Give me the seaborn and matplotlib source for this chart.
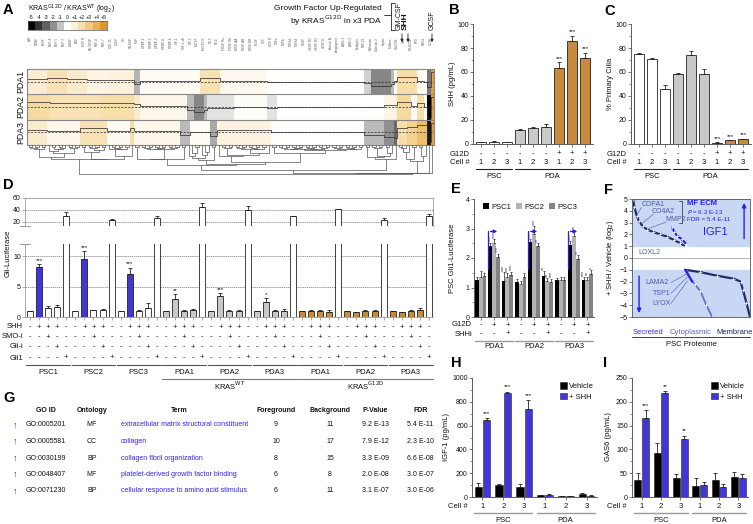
import numpy as np
import pandas as pd
import matplotlib
matplotlib.use("Agg")
import matplotlib.pyplot as plt
import matplotlib.transforms as mtrans
from matplotlib.colors import LinearSegmentedColormap, ListedColormap
from matplotlib.patches import Patch
from matplotlib.lines import Line2D
from matplotlib.ticker import MultipleLocator
import seaborn as sns

sns.set_theme(style="ticks")
plt.rcParams['font.family'] = ['Liberation Sans', 'DejaVu Sans']
plt.rcParams.update({
    'axes.linewidth': 0.6, 'axes.edgecolor': '#444444',
    'xtick.major.width': 0.5, 'ytick.major.width': 0.5,
    'xtick.major.size': 2, 'ytick.major.size': 2,
    'ytick.minor.size': 1.2, 'ytick.minor.width': 0.4,
    'xtick.color': '#444444', 'ytick.color': '#444444',
    'xtick.labelcolor': '#111111', 'ytick.labelcolor': '#111111',
    'text.color': '#111111', 'axes.labelcolor': '#111111',
})

W, H = 753, 524
BLUE = '#2b1bf0'
ORANGE = '#e08c26'
LGRAY = '#c9c9c9'
INK = '#222222'

# ======================= DATA =======================
# --- A: KRAS G12D / WT growth-factor heatmap (log2), run-length encoded (value, n columns)
hm_rows = ["PDA1", "PDA2", "PDA3"]
pda1_vals = [1.2, 1.8, 1.3, 0.8, 1.0, -1.3, 0.3, 1.8, 0.5, 0.0, -0.8, -2.2, -1.2, 0.2, 2.0, 0.4, 0.0, -2.5, 4.5]
pda1_runs = [6, 6, 6, 7, 7, 2, 18, 6, 14, 29, 2, 6, 1, 1, 6, 2, 1, 1, 1]
pda2_vals = [2.2, 1.8, 2.0, 1.4, 0.6, -1.2, -2.2, -1.2, -0.5, 0.2, -0.5, 0.0, 0.8, 2.3, 0.3, 2.0, 0.2, -5.0, 4.5]
pda2_runs = [7, 15, 10, 2, 14, 2, 3, 1, 8, 10, 3, 32, 4, 4, 2, 2, 1, 1, 1]
pda3_vals = [1.3, 0.6, 1.8, 0.4, 2.0, 0.6, -1.2, 0.3, -1.5, 0.9, 0.0, -1.2, -2.0, -2.8, 2.0, 2.6, 3.4, -4.5, 4.5]
pda3_runs = [6, 10, 8, 7, 1, 14, 3, 6, 2, 16, 28, 6, 3, 1, 3, 3, 3, 1, 1]
cbar_ticks = ['-5', '-4', '-3', '-2', '-1', '0', '+1', '+2', '+3', '+4', '+5']
cbar_colors = ['#000000', '#333333', '#606060', '#909090', '#c4c4c4', '#ffffff',
               '#fcf1dc', '#f7dfad', '#f1c97f', '#eab052', '#e0942a']
gene_labels = ["AR", "BDNF", "bFGF", "BMP-4", "BMP-5", "BMP-7", "b-NGF", "EGF", "EGF R", "EG-VEGF",
               "FGF-4", "FGF-7", "GDF-15", "GDNF", "GH", "HB-EGF", "HGF", "IGFBP-1", "IGFBP-2", "IGFBP-3",
               "IGFBP-4", "IGFBP-6", "IGF-1", "IGF-1 sR", "IGF-2", "M-CSF", "M-CSF R", "NT-3", "NT-4",
               "PDGF Ra", "PDGF Rb", "PDGF-AA", "PDGF-AB", "PDGF-BB", "PLGF", "SCF", "SCF R", "TGFa",
               "TGFb", "TGFb2", "TGFb3", "VEGF", "VEGF R2", "VEGF R3", "VEGF-D", "Activin A", "Angiogenin",
               "ANG-1", "ANG-2", "Endoglin", "FGF-21", "Follistatin", "Galectin-3", "Leptin", "Midkine",
               "GM-CSF", "SHH", "PD-ECGF", "TPO", "NRG1", "GCSF"]

# --- B: SHH secretion (pg/mL)
b_g12d = ['-', '-', '-', '-', '-', '-', '+', '+', '+']
b_cell = ['1', '2', '3', '1', '2', '3', '1', '2', '3']
b_kind = ['PSC', 'PSC', 'PSC', 'WT', 'WT', 'WT', 'G12D', 'G12D', 'G12D']
b_vals = [1.5, 1.8, 1.6, 12.0, 13.0, 14.5, 63.0, 86.0, 72.0]
b_errs = [0.3, 0.3, 0.3, 0.6, 1.5, 2.5, 5.0, 4.0, 4.0]
b_stars = ['', '', '', '', '', '', '***', '***', '***']

# --- C: % primary cilia
c_vals = [75.0, 71.0, 46.0, 58.0, 74.0, 58.0, 1.0, 3.0, 4.0]
c_errs = [0.6, 0.6, 3.0, 0.8, 3.5, 4.5, 0.3, 0.3, 0.4]
c_stars = ['', '', '', '', '', '', '***', '***', '***']

# --- D: Gli-luciferase (5 conditions per cell line)
d_groups = ["PSC1", "PSC2", "PSC3", "PDA1", "PDA2", "PDA3", "PDA1", "PDA2", "PDA3"]
d_kras = ["PSC", "PSC", "PSC", "WT", "WT", "WT", "G12D", "G12D", "G12D"]
d_vals = [[1.0, 8.2, 1.5, 1.7, 30.0], [1.0, 9.6, 1.1, 1.2, 23.0], [1.0, 7.0, 1.0, 1.4, 27.0],
          [1.0, 2.9, 1.0, 1.1, 45.0], [1.0, 3.4, 1.0, 1.05, 40.0], [1.0, 2.5, 1.05, 1.05, 29.0],
          [1.0, 1.05, 1.0, 0.85, 41.0], [1.0, 0.85, 1.0, 1.0, 23.0], [1.0, 0.85, 1.0, 1.1, 29.0]]
d_errs = [[0.0, 0.5, 0.3, 0.3, 6.0], [0.0, 1.2, 0.1, 0.1, 1.5], [0.0, 1.1, 0.1, 0.9, 3.0],
          [0.0, 0.8, 0.2, 0.2, 6.0], [0.0, 0.5, 0.1, 0.1, 7.0], [0.0, 0.6, 0.1, 0.2, 1.0],
          [0.0, 0.1, 0.1, 0.3, 1.0], [0.0, 0.05, 0.1, 0.2, 4.0], [0.0, 0.05, 0.1, 0.4, 4.0]]
d_stars = ['***', '***', '***', '**', '***', '*', '', '', '']
d_shh = ['-', '+', '+', '+', '-']
d_smo = ['-', '-', '+', '-', '-']
d_glii = ['-', '-', '-', '+', '-']
d_gli1 = ['-', '-', '-', '-', '+']

# --- E: PSC Gli1-luciferase with PDA conditioned media
e_psc = ["PSC1", "PSC2", "PSC3"]
e_pda = ["PDA1", "PDA2", "PDA3"]
e_g12d = ['-', '+', '+']
e_shhi = ['-', '-', '+']
e_psc1 = [1.25, 2.42, 1.22, 1.20, 2.55, 1.40, 1.25, 2.45, 1.25]
e_psc2 = [1.35, 2.50, 1.35, 1.12, 2.82, 1.22, 1.25, 2.75, 1.25]
e_psc3 = [1.38, 2.05, 1.42, 1.35, 2.40, 1.20, 1.25, 1.95, 1.45]
e_err1 = [0.12, 0.10, 0.30, 0.10, 0.10, 0.15, 0.08, 0.12, 0.10]
e_err2 = [0.20, 0.15, 0.15, 0.10, 0.25, 0.10, 0.10, 0.20, 0.12]
e_err3 = [0.10, 0.10, 0.12, 0.15, 0.10, 0.10, 0.10, 0.15, 0.15]
e_stars1 = ['', '***', '***', '', '***', '**', '', '***', '***']
e_stars2 = ['', '***', '***', '', '***', '**', '', '**', '**']
e_stars3 = ['', '***', '***', '', '**', '***', '', '**', '*']

# --- F: PSC proteome (+SHH / vehicle, log2), ranked
f_sec_x = [0.01, 0.02, 0.04, 0.06, 0.09, 0.13, 0.18, 0.24, 0.30, 0.36, 0.41, 0.45]
f_sec_y = [5.0, 4.3, 3.6, 3.1, 2.7, 2.4, 2.2, 2.0, 1.8, 1.5, 1.25, 1.0]
f_igf_x = [0.34, 0.36, 0.38, 0.42, 0.46]
f_igf_y = [2.6, 2.2, 1.9, 1.6, 1.2]
f_cyt_x = [0.45, 0.49, 0.53, 0.58, 0.63, 0.68]
f_cyt_y = [-1.0, -1.7, -2.2, -2.8, -4.0, -5.0]
f_mem_x = [0.45, 0.58, 0.72, 0.86, 0.92, 0.94, 0.97, 1.0]
f_mem_y = [-1.0, -1.2, -1.5, -1.75, -2.0, -2.7, -3.8, -5.0]
f_ecm_x = [0.45, 0.47, 0.49, 0.51]
f_ecm_y = [-1.0, -1.3, -1.65, -2.0]

# --- G: GO enrichment table
go_ids = ["GO:0005201", "GO:0005581", "GO:0030199", "GO:0048407", "GO:0071230"]
go_ont = ["MF", "CC", "BP", "MF", "BP"]
go_terms = ["extracellular matrix structural constituent", "collagen", "collagen fibril organization",
            "platelet-derived growth factor binding", "cellular response to amino acid stimulus"]
go_fg = [9, 10, 8, 6, 6]
go_bg = [11, 17, 15, 8, 11]
go_p = ["9.2 E-13", "7.9 E-12", "3.3 E-09", "2.0 E-08", "3.1 E-07"]
go_fdr = ["5.4 E-11", "2.3 E-10", "6.6 E-08", "3.0 E-07", "3.0 E-06"]

# --- H / I: IGF-1 and GAS6 secretion
hi_cells = ['1', '2', '3', '1', '2', '3']
hi_keys = ['PSC1', 'PSC2', 'PSC3', 'PDA1', 'PDA2', 'PDA3']
h_veh = [80, 100, 80, 15, 5, 25]
h_veh_err = [40, 8, 30, 3, 2, 5]
h_shh = [645, 870, 740, 20, 8, 10]
h_shh_err = [15, 15, 75, 3, 2, 3]
h_stars = ['***', '***', '***', '', '', '']
i_veh = [35, 93, 39, 24, 35, 43]
i_veh_err = [15, 20, 9, 15, 15, 9]
i_shh = [167, 219, 121, 26, 21, 40]
i_shh_err = [15, 3, 8, 5, 6, 8]
i_stars = ['***', '**', '**', '', '', '']

# ======================= HELPERS =======================
fig = plt.figure(figsize=(W / 100, H / 100), dpi=100)


def add_ax(x0, y0, x1, y1):
    return fig.add_axes([x0 / W, 1 - y1 / H, (x1 - x0) / W, (y1 - y0) / H])


def fx(px):
    return px / W


def fy(py):
    return 1 - py / H


def mixed(ax):
    return mtrans.blended_transform_factory(ax.transData, fig.transFigure)


def bottom_rows(ax, xs, rows, label_px, fs=5.5):
    tr = mixed(ax)
    for name, py, labels in rows:
        for x, l in zip(xs, labels):
            ax.text(x, fy(py), l, transform=tr, ha='center', va='center', fontsize=fs)
        fig.text(fx(label_px), fy(py), name, ha='right', va='center', fontsize=fs)


def group_lines(ax, spans, py, label_py, color, fs, lw=0.8):
    tr = mixed(ax)
    for x0, x1, lab in spans:
        ax.add_line(Line2D([x0, x1], [fy(py)] * 2, transform=tr, color=color, lw=lw, clip_on=False))
        ax.text((x0 + x1) / 2, fy(label_py), lab, transform=tr, ha='center', va='center', fontsize=fs)


def panel_label(px, py, s):
    fig.text(fx(px), fy(py), s, fontsize=10.5, fontweight='bold', ha='left', va='top', color='black')


def simple_bars(ax, vals, errs, kinds, pal, width=0.72):
    n = len(vals)
    df = pd.DataFrame({'bar': [f'b{i}' for i in range(n)], 'val': vals, 'kind': kinds})
    sns.barplot(data=df, x='bar', y='val', hue='kind', dodge=False, palette=pal, width=width,
                edgecolor=INK, linewidth=0.6, legend=False, errorbar=None, ax=ax)
    ax.errorbar(np.arange(n), vals, yerr=[np.zeros(n), errs], fmt='none', ecolor=INK,
                elinewidth=0.6, capsize=1.5, capthick=0.6)
    ax.set_xticks(np.arange(n))
    ax.set_xticklabels([])
    ax.set_xlabel('')
    ax.set_ylabel('')
    ax.set_xlim(-0.6, n - 0.4)
    sns.despine(ax=ax)
    ax.tick_params(labelsize=5, pad=1)


kind_pal = {'PSC': 'white', 'WT': LGRAY, 'G12D': ORANGE}

# ======================= PANEL A =======================
hm = np.vstack([np.repeat(pda1_vals, pda1_runs), np.repeat(pda2_vals, pda2_runs),
                np.repeat(pda3_vals, pda3_runs)])
ncol = hm.shape[1]
cmap = LinearSegmentedColormap.from_list('kw_or', list(zip(np.linspace(0, 1, 11), cbar_colors)))
axA = add_ax(27, 69, 434, 145)
sns.heatmap(hm, ax=axA, cmap=cmap, vmin=-5, vmax=5, cbar=False, xticklabels=False, yticklabels=False)
for r in range(3):
    axA.plot([0, ncol], [r + 0.5] * 2, color=INK, lw=0.5, ls=(0, (3, 2)))
    ys = r + 0.5 - 0.085 * hm[r]
    axA.step(np.arange(ncol + 1), np.r_[ys, ys[-1]], where='post', color='#333333', lw=0.55)
for r in (1, 2):
    axA.axhline(r, color='#888888', lw=0.8)
for s in axA.spines.values():
    s.set_visible(True)
    s.set_color('#888888')
    s.set_linewidth(0.8)
trA = mtrans.blended_transform_factory(fig.transFigure, axA.transData)
for r, name in enumerate(hm_rows):
    axA.text(fx(21), r + 0.5, name, transform=trA, rotation=90, ha='center', va='center', fontsize=6.3)

# gene labels (tiny)
trAx = mixed(axA)
for k, g in enumerate(gene_labels):
    axA.text(2 * k + 1, fy(37), g, transform=trAx, rotation=90, ha='center', va='top',
             fontsize=2.2, color='#555555')

# colorbar
axCb = add_ax(28, 21, 107, 30)
sns.heatmap(np.arange(-5, 6).reshape(1, -1), ax=axCb, cmap=ListedColormap(cbar_colors),
            vmin=-5.5, vmax=5.5, cbar=False, yticklabels=False)
axCb.xaxis.tick_top()
axCb.set_xticks(np.arange(11) + 0.5)
axCb.set_xticklabels(cbar_ticks, fontsize=3.8)
axCb.tick_params(axis='x', length=0, pad=1)
for s in axCb.spines.values():
    s.set_visible(True)
    s.set_color('#555555')
    s.set_linewidth(0.5)
fig.text(fx(28), fy(9), r'KRAS$^{\mathrm{G12D}}$ / KRAS$^{\mathrm{WT}}$ (log$_2$)', fontsize=5,
         ha='left', va='center')

# annotation block top right
fig.text(fx(382), fy(9), 'Growth Factor Up-Regulated', fontsize=6, ha='right', va='center')
fig.text(fx(382), fy(20.5), r'by KRAS$^{\mathrm{G12D}}$ in x3 PDA', fontsize=6, ha='right', va='center')
for seg in [([384, 391], [15, 15]), ([391, 391], [2.5, 30]), ([391, 395], [2.5, 2.5]), ([391, 395], [30, 30])]:
    fig.add_artist(Line2D([fx(v) for v in seg[0]], [fy(v) for v in seg[1]], color=INK, lw=0.6))
for col, lab, bold in [(112.4, 'GM-CSF', False), (114.2, 'SHH', True), (121.4, 'GCSF', False)]:
    axA.text(col - 0.9 if lab != 'GCSF' else col, fy(30), lab, transform=trAx, rotation=90,
             ha='center', va='bottom', fontsize=5 if not bold else 6,
             fontweight='bold' if bold else 'normal')
    axA.annotate('', xy=(col, fy(45)), xytext=(col, fy(31)), xycoords=trAx, textcoords=trAx,
                 arrowprops=dict(arrowstyle='-|>', lw=0.6, color=INK, mutation_scale=4))


# dendrogram (contiguity-constrained Ward clustering of the heatmap columns)
def contiguous_ward(M):
    cl = [{'n': 1, 'm': M[:, i].astype(float), 'x': i + 0.5, 'h': 0.0} for i in range(M.shape[1])]
    segs = []
    while len(cl) > 1:
        best = None
        for i in range(len(cl) - 1):
            a, b = cl[i], cl[i + 1]
            d = np.sqrt(2 * a['n'] * b['n'] / (a['n'] + b['n'])) * np.linalg.norm(a['m'] - b['m'])
            key = (round(d, 9), a['n'] + b['n'])
            if best is None or key < best[0]:
                best = (key, i, d)
        _, i, d = best
        a, b = cl[i], cl[i + 1]
        h = max(d, a['h'], b['h']) + 0.08
        segs.append(([a['x'], a['x'], b['x'], b['x']], [a['h'], h, h, b['h']]))
        n = a['n'] + b['n']
        cl[i:i + 2] = [{'n': n, 'm': (a['m'] * a['n'] + b['m'] * b['n']) / n,
                        'x': (a['x'] + b['x']) / 2, 'h': h}]
    return segs


axDen = add_ax(27, 145, 434, 175)
segs = contiguous_ward(hm)
hmax = 0
for xs, hs in segs:
    sh = np.sqrt(hs)
    hmax = max(hmax, sh.max())
    axDen.plot(xs, sh, color='#555555', lw=0.5)
axDen.set_xlim(0, ncol)
axDen.set_ylim(hmax * 1.02, 0)
axDen.axis('off')

# ======================= PANEL B =======================
axB = add_ax(473, 24, 593, 144)
simple_bars(axB, b_vals, b_errs, b_kind, kind_pal)
axB.set_ylim(0, 100)
axB.yaxis.set_major_locator(MultipleLocator(20))
axB.yaxis.set_minor_locator(MultipleLocator(10))
for i, s in enumerate(b_stars):
    if s:
        axB.text(i, b_vals[i] + b_errs[i] + 1.5, s, ha='center', va='bottom', fontsize=4.5)
fig.text(fx(452), fy(84), 'SHH (pg/mL)', rotation=90, ha='center', va='center', fontsize=5.5)
bottom_rows(axB, range(9), [('G12D', 154, b_g12d), ('Cell #', 163, b_cell)], 470)
group_lines(axB, [(-0.4, 2.4, 'PSC'), (2.6, 8.4, 'PDA')], 169, 176, INK, 5.5)

# ======================= PANEL C =======================
axC = add_ax(631, 24, 751, 144)
simple_bars(axC, c_vals, c_errs, b_kind, kind_pal)
axC.set_ylim(0, 100)
axC.yaxis.set_major_locator(MultipleLocator(20))
axC.yaxis.set_minor_locator(MultipleLocator(10))
for i, s in enumerate(c_stars):
    if s:
        axC.text(i, c_vals[i] + c_errs[i] + 1.0, s, ha='center', va='bottom', fontsize=4.5)
fig.text(fx(611), fy(84), '% Primary Cilia', rotation=90, ha='center', va='center', fontsize=5.5)
bottom_rows(axC, range(9), [('G12D', 154, b_g12d), ('Cell #', 163, b_cell)], 627)
group_lines(axC, [(-0.4, 2.4, 'PSC'), (2.6, 8.4, 'PDA')], 169, 176, INK, 5.5)

# ======================= PANEL D =======================
d_flat_vals, d_flat_errs, d_flat_kind = [], [], []
for g in range(9):
    for c in range(5):
        d_flat_vals.append(d_vals[g][c])
        d_flat_errs.append(d_errs[g][c])
        if c == 4:
            d_flat_kind.append('Gli1')
        elif d_kras[g] == 'PSC':
            d_flat_kind.append('SHHPSC' if c == 1 else 'PSC')
        else:
            d_flat_kind.append(d_kras[g])
d_pal = {'PSC': 'white', 'SHHPSC': BLUE, 'WT': LGRAY, 'G12D': ORANGE, 'Gli1': 'white'}
nD = len(d_flat_vals)
dfD = pd.DataFrame({'bar': [f'd{i:02d}' for i in range(nD)], 'val': d_flat_vals, 'kind': d_flat_kind})
axDu = add_ax(25, 198, 433, 226)
axDl = add_ax(25, 244, 433, 317)
for ax in (axDu, axDl):
    sns.barplot(data=dfD, x='bar', y='val', hue='kind', dodge=False, palette=d_pal, width=0.66,
                edgecolor=INK, linewidth=0.6, legend=False, errorbar=None, ax=ax, zorder=2)
    ax.errorbar(np.arange(nD), d_flat_vals, yerr=[np.zeros(nD), d_flat_errs], fmt='none',
                ecolor=INK, elinewidth=0.6, capsize=1.3, capthick=0.6, zorder=3)
    ax.set_xlim(-0.55, nD - 0.55)
    ax.set_xlabel('')
    ax.set_ylabel('')
    ax.tick_params(labelsize=5, pad=1, colors='#888888', labelcolor='#111111')
    for s in ax.spines.values():
        s.set_color('#999999')
axDu.set_ylim(13, 60)
axDu.set_yticks([20, 40, 60])
axDu.set_xticks([])
axDu.spines['bottom'].set_visible(False)
for yv in (20, 40):
    axDu.axhline(yv, color='#777777', lw=0.5, ls=(0, (2, 1)), zorder=0.5)
axDu.plot([-0.012, 0.012], [0, 0], transform=axDu.transAxes, color='#888888', lw=0.6, clip_on=False)
axDl.set_ylim(0, 12)
axDl.set_yticks([0, 5, 10])
axDl.set_xticks(np.arange(nD))
axDl.set_xticklabels([])
sns.despine(ax=axDl)
axDl.spines['left'].set_color('#999999')
axDl.spines['bottom'].set_color('#999999')
axDl.plot([-0.012, 0.012], [1, 1], transform=axDl.transAxes, color='#888888', lw=0.6, clip_on=False)
for yv in (5, 10):
    axDl.axhline(yv, color='#777777', lw=0.5, ls=(0, (2, 1)), zorder=0.5)
for g, s in enumerate(d_stars):
    if s:
        i = g * 5 + 1
        axDl.text(i, d_flat_vals[i] + d_flat_errs[i] + 0.25, s, ha='center', va='bottom', fontsize=4.5)
fig.text(fx(8), fy(253), 'Gli-Luciferase', rotation=90, ha='center', va='center', fontsize=5.5)
bottom_rows(axDl, range(nD), [('SHH', 327, d_shh * 9), ('SMO-i', 337, d_smo * 9),
                              ('Gli-i', 347, d_glii * 9), ('Gli1', 358, d_gli1 * 9)], 23)
group_lines(axDl, [(g * 5 - 0.4, g * 5 + 4.4, d_groups[g]) for g in range(9)], 365, 372, '#555555', 5.5)
group_lines(axDl, [(15 - 0.4, 29.4, r'KRAS$^{\mathrm{WT}}$'), (30 - 0.4, 44.4, r'KRAS$^{\mathrm{G12D}}$')],
            378.5, 385.5, '#777777', 5.5)

# ======================= PANEL E =======================
axE = add_ax(474, 199, 594, 317)
e_cols = [e_psc1, e_psc2, e_psc3]
e_errs = [e_err1, e_err2, e_err3]
e_starl = [e_stars1, e_stars2, e_stars3]
dfE = pd.DataFrame({'cond': [f'c{i}' for k in range(3) for i in range(9)],
                    'psc': [e_psc[k] for k in range(3) for i in range(9)],
                    'val': [e_cols[k][i] for k in range(3) for i in range(9)]})
e_pal = ['#000000', '#b3b3b3', '#828282']
sns.barplot(data=dfE, x='cond', y='val', hue='psc', hue_order=e_psc, palette=e_pal, width=0.84,
            edgecolor='none', legend=False, errorbar=None, ax=axE)
e_bar_conts = list(axE.containers)[:3]
for k, cont in enumerate(e_bar_conts):
    xs = [p.get_x() + p.get_width() / 2 for p in cont]
    axE.errorbar(xs, e_cols[k], yerr=[np.zeros(9), e_errs[k]], fmt='none', ecolor=INK,
                 elinewidth=0.5, capsize=1.0, capthick=0.5)
    for i, s in enumerate(e_starl[k]):
        if s:
            col = BLUE if i % 3 == 1 else INK
            axE.text(xs[i], e_cols[k][i] + e_errs[k][i] + 0.04, s, rotation=90, ha='center',
                     va='bottom', fontsize=3.8, color=col)
axE.set_ylim(0, 4)
axE.set_xlim(-0.5, 8.5)
axE.yaxis.set_major_locator(MultipleLocator(1))
axE.yaxis.set_minor_locator(MultipleLocator(0.5))
axE.set_xticks(np.arange(9))
axE.set_xticklabels([])
axE.set_xlabel('')
axE.set_ylabel('')
sns.despine(ax=axE)
axE.tick_params(labelsize=5, pad=1)
for g in range(3):
    x0 = 3 * g + 0.55
    axE.plot([x0, x0], [1.62, 2.9], color=BLUE, lw=0.9)
    axE.annotate('', xy=(3 * g + 1.45, 2.9), xytext=(x0 - 0.02, 2.9),
                 arrowprops=dict(arrowstyle='-|>', color=BLUE, lw=0.9, mutation_scale=5))
axE.legend(handles=[Patch(facecolor=c, edgecolor='none') for c in e_pal], labels=e_psc,
           loc='upper left', bbox_to_anchor=(0.05, 0.99), ncol=3, fontsize=5.5, frameon=False,
           handlelength=0.8, handleheight=0.8, handletextpad=0.3, columnspacing=0.6, borderaxespad=0)
fig.text(fx(452), fy(258), 'PSC Gli1-Luciferase', rotation=90, ha='center', va='center', fontsize=5.5)
bottom_rows(axE, range(9), [('G12D', 325, e_g12d * 3), ('SHHi', 334, e_shhi * 3)], 472)
group_lines(axE, [(3 * g - 0.45, 3 * g + 2.45, e_pda[g]) for g in range(3)], 340.5, 346.5,
            '#999999', 5.5, lw=1.0)

# ======================= PANEL F =======================
axF = add_ax(632, 199, 750, 317)
axF.axhspan(1, 5, color='#c8d7f4', zorder=0)
axF.axhspan(-5, -1, color='#c8d7f4', zorder=0)
axF.axhline(0, color='#999999', lw=0.5, zorder=0.5)
sns.lineplot(x=f_sec_x, y=f_sec_y, ax=axF, color='#1e2d66', lw=1.6, marker='+', ms=3, mew=0.5)
sns.lineplot(x=f_igf_x, y=f_igf_y, ax=axF, color=BLUE, lw=1.6, marker='+', ms=3, mew=0.5)
sns.lineplot(x=f_cyt_x, y=f_cyt_y, ax=axF, color='#6a79c4', lw=1.4, marker='+', ms=3, mew=0.5)
sns.lineplot(x=f_mem_x, y=f_mem_y, ax=axF, color='#1e2d66', lw=1.6, marker='+', ms=3, mew=0.5)
sns.lineplot(x=f_ecm_x, y=f_ecm_y, ax=axF, color=BLUE, lw=1.6)
axF.set_xlim(0, 1)
axF.set_ylim(-5, 5)
axF.set_yticks(np.arange(-5, 6))
axF.set_xticks([])
axF.set_xlabel('')
axF.set_ylabel('')
axF.tick_params(labelsize=5, pad=1)
for s in axF.spines.values():
    s.set_visible(True)
    s.set_color('#555555')
gcol = '#4a5aa8'
axF.text(0.08, 4.55, 'COFA1', fontsize=5, color=gcol, va='center')
axF.text(0.17, 3.9, 'CO4A2', fontsize=5, color=gcol, va='center')
axF.text(0.28, 3.25, 'MMP2', fontsize=5, color=gcol, va='center')
axF.text(0.05, 0.45, 'LOXL2', fontsize=5, color=gcol, va='center')
axF.plot([0.08, 0.04], [4.3, 3.6], color=gcol, lw=0.4)
axF.plot([0.18, 0.08], [3.7, 2.9], color=gcol, lw=0.4)
axF.plot([0.29, 0.14], [3.05, 2.5], color=gcol, lw=0.4)
axF.text(0.60, 2.2, 'IGF1', fontsize=8, color=BLUE, va='center')
axF.plot([0.40, 0.42, 0.42, 0.40], [4.85, 4.85, 3.0, 3.0], color='#555555', lw=0.7)
axF.text(0.47, 4.6, 'MF ECM', fontsize=5.5, color=BLUE, fontweight='bold', va='center')
axF.text(0.47, 3.9, r'$P$ = 9.2 E-13', fontsize=4.5, color=BLUE, va='center')
axF.text(0.47, 3.25, 'FDR = 5.4 E-11', fontsize=4.5, color=BLUE, va='center')
axF.annotate('', xy=(0.95, 4.9), xytext=(0.95, 1.4),
             arrowprops=dict(arrowstyle='-|>', color=BLUE, lw=1.0, mutation_scale=6))
axF.annotate('', xy=(0.06, -4.9), xytext=(0.06, -1.3),
             arrowprops=dict(arrowstyle='-|>', color=BLUE, lw=1.0, mutation_scale=6))
for lab, yv, ty in [('LAMA2', -2.1, -1.3), ('TSP1', -3.0, -1.6), ('LYOX', -3.85, -1.95)]:
    axF.text(0.33 if lab != 'LAMA2' else 0.31, yv, lab, fontsize=5, color=gcol, va='center', ha='right')
    axF.plot([0.33, 0.47], [yv, ty], color=gcol, lw=0.4)
fig.text(fx(611), fy(258), '+ SHH / Vehicle (log$_2$)', rotation=90, ha='center', va='center', fontsize=5.5)
trF = mixed(axF)
for xv, lab, col in [(0.14, 'Secreted', '#3a2ee8'), (0.5, 'Cytoplasmic', '#5a66b8'), (0.87, 'Membrane', '#1e2d5c')]:
    axF.text(xv, fy(332), lab, transform=trF, ha='center', va='center', fontsize=5.5, color=col)
group_lines(axF, [(0.0, 1.0, 'PSC Proteome')], 337, 344, INK, 5.5, lw=0.6)

# ======================= PANEL G =======================
hdr_y = 410
row_y = [425, 441.5, 458, 474.5, 491]
cols = [(46, 'GO ID', 'center'), (92, 'Ontology', 'center'), (179, 'Term', 'center'),
        (276, 'Foreground', 'center'), (330, 'Background', 'center'), (375, 'P-Value', 'center'),
        (421, 'FDR', 'center')]
for xp, lab, ha in cols:
    fig.text(fx(xp), fy(hdr_y), lab, ha=ha, va='center', fontsize=5, fontweight='bold')
for r in range(5):
    yy = fy(row_y[r])
    fig.text(fx(15), yy, '\u2191', ha='center', va='center', fontsize=6.5, color=BLUE, fontweight='bold')
    fig.text(fx(46), yy, go_ids[r], ha='center', va='center', fontsize=5)
    fig.text(fx(92), yy, go_ont[r], ha='center', va='center', fontsize=5)
    fig.text(fx(121), yy, go_terms[r], ha='left', va='center', fontsize=5, color='#3322ee')
    fig.text(fx(276), yy, str(go_fg[r]), ha='center', va='center', fontsize=5)
    fig.text(fx(330), yy, str(go_bg[r]), ha='center', va='center', fontsize=5)
    fig.text(fx(375), yy, go_p[r], ha='center', va='center', fontsize=5)
    fig.text(fx(420), yy, go_fdr[r], ha='center', va='center', fontsize=5)


# ======================= PANELS H / I =======================
def paired_bars(ax, veh, veh_err, shh, shh_err, stars, ymax, step, minor, ylabel, lab_px, cell_px):
    df = pd.DataFrame({'cell': hi_keys * 2, 'trt': ['Vehicle'] * 6 + ['+ SHH'] * 6,
                       'val': list(veh) + list(shh)})
    sns.barplot(data=df, x='cell', y='val', hue='trt', hue_order=['Vehicle', '+ SHH'],
                palette=['#000000', BLUE], width=0.8, gap=0.12, edgecolor=INK, linewidth=0.4,
                errorbar=None, ax=ax)
    conts = list(ax.containers)[:2]
    for k, (vals, errs) in enumerate([(veh, veh_err), (shh, shh_err)]):
        xs = [p.get_x() + p.get_width() / 2 for p in conts[k]]
        ax.errorbar(xs, vals, yerr=[np.zeros(6), errs], fmt='none', ecolor=INK, elinewidth=0.6,
                    capsize=1.3, capthick=0.6)
        if k == 1:
            for i, s in enumerate(stars):
                if s:
                    ax.text(xs[i], vals[i] + errs[i] + ymax * 0.02, s, ha='center', va='bottom', fontsize=4.5)
    ax.set_ylim(0, ymax)
    ax.set_xlim(-0.5, 5.5)
    ax.yaxis.set_major_locator(MultipleLocator(step))
    ax.yaxis.set_minor_locator(MultipleLocator(minor))
    ax.set_xticks(np.arange(6))
    ax.set_xticklabels([])
    ax.set_xlabel('')
    ax.set_ylabel('')
    sns.despine(ax=ax)
    ax.tick_params(labelsize=5, pad=1)
    ax.legend(loc='upper right', bbox_to_anchor=(1.0, 0.99), fontsize=5.5, frameon=False,
              handlelength=0.9, handleheight=0.9, handletextpad=0.3, borderaxespad=0, labelspacing=0.35)
    fig.text(fx(lab_px), fy(437), ylabel, rotation=90, ha='center', va='center', fontsize=5.5)
    bottom_rows(ax, range(6), [('Cell #', 507, hi_cells)], cell_px)
    group_lines(ax, [(-0.4, 2.4, 'PSC'), (2.6, 5.4, 'PDA')], 513, 520, '#999999', 5.5, lw=1.0)


axH = add_ax(472, 378, 597, 497)
paired_bars(axH, h_veh, h_veh_err, h_shh, h_shh_err, h_stars, 1000, 200, 100, 'IGF-1 (pg/mL)', 447, 468)
axI = add_ax(632, 378, 748, 497)
paired_bars(axI, i_veh, i_veh_err, i_shh, i_shh_err, i_stars, 250, 50, 25, 'GAS6 (pg/mL)', 609, 627)

# ======================= PANEL LETTERS =======================
for px, py, s in [(3, 3, 'A'), (449, 3, 'B'), (604, 4, 'C'), (3, 178, 'D'), (451, 182, 'E'),
                  (604, 183, 'F'), (3, 391, 'G'), (451, 356, 'H'), (603, 356, 'I')]:
    panel_label(px, py, s)

fig.savefig('out.png', dpi=100)
